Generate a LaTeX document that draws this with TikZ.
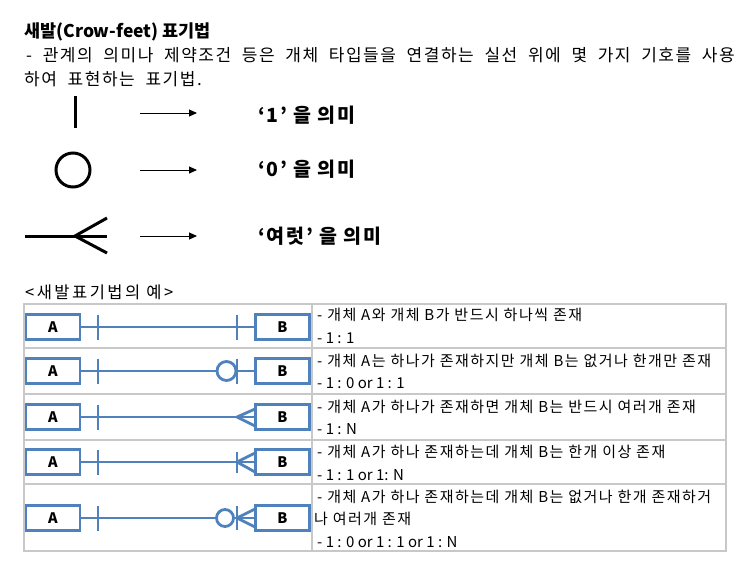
\documentclass[tikz,border=0pt]{standalone}
\usepackage{fontspec}
\setmainfont{Noto Sans CJK KR}
\newfontfamily\introfont[LetterSpace=9,WordSpace=2.0]{Noto Sans CJK KR}
\usetikzlibrary{arrows.meta}
\definecolor{erblue}{HTML}{4F81BD}
\definecolor{gridgray}{HTML}{C8C8C8}
\tikzset{
  txt/.style={anchor=west, inner sep=0pt, text height=0.8em, text depth=0.12em},
  ent/.style={draw=erblue, line width=2.8pt, minimum width=54pt, minimum height=25pt, inner sep=0pt, font=\bfseries\fontsize{14.5}{16}\selectfont},
  rel/.style={draw=erblue, line width=2.8pt},
  sym/.style={draw=black, line width=3pt},
  arr/.style={draw=black, line width=1pt, -{Triangle[length=8pt,width=7pt]}},
  grid/.style={draw=gridgray, line width=1.5pt},
  desc/.style={txt, font=\fontsize{15}{17}\selectfont\addfontfeatures{LetterSpace=10}},
  descn/.style={txt, font=\fontsize{15}{17}\selectfont},
  intro/.style={txt, font=\introfont\fontsize{17}{19}\selectfont},
  mean/.style={txt, font=\bfseries\fontsize{19.5}{22}\selectfont\addfontfeatures{LetterSpace=9}}
}
\begin{document}
\begin{tikzpicture}[x=1pt, y=-1pt]
\useasboundingbox[fill=white] (0,0) rectangle (741,568);
% heading
\node[txt, font=\bfseries\fontsize{17.5}{19}\selectfont] (title) at (24,34) {새발(Crow-feet) 표기법};
\node[intro] (intro1) at (26,58) {- 관계의 의미나 제약조건 등은 개체 타입들을 연결하는 실선 위에 몇 가지 기호를 사용};
\node[intro] (intro2) at (24,82) {하여 표현하는 표기법.};
% legend
\coordinate (s1t) at (75,96); \coordinate (s1b) at (75,128);
\draw[sym] (s1t) -- (s1b);
\coordinate (r1a) at (140,113); \coordinate (r1b) at (197,113);
\draw[arr] (r1a) -- (r1b);
\node[mean] (m1) at (258,119.5) {‘1’ 을 의미};
\node[sym, circle, minimum size=34pt, inner sep=0pt] (s2) at (73,170) {};
\coordinate (r2a) at (140,170); \coordinate (r2b) at (197,170);
\draw[arr] (r2a) -- (r2b);
\node[mean] (m2) at (258,173.5) {‘0’ 을 의미};
\coordinate (s3a) at (25,236); \coordinate (s3f) at (75,236); \coordinate (s3m) at (107,236);
\coordinate (s3u) at (107,218); \coordinate (s3d) at (107,253);
\draw[sym] (s3a) -- (s3m); \draw[sym] (s3u) -- (s3f) -- (s3d);
\coordinate (r3a) at (140,236); \coordinate (r3b) at (197,236);
\draw[arr] (r3a) -- (r3b);
\node[mean] (m3) at (258,240) {‘여럿’ 을 의미};
% example caption
\node[txt, font=\fontsize{16.5}{18}\selectfont\addfontfeatures{LetterSpace=15}] (cap) at (25,295) {<새발표기법의 예>};
% table grid
\coordinate (g1) at (24,304); \coordinate (g2) at (726,551);
\draw[grid] (g1) rectangle (g2);
\coordinate (v1) at (312,304); \coordinate (v2) at (312,551);
\draw[grid] (v1) -- (v2);
\foreach \yy/\w in {348/1.5, 394/2.8, 440/1.5, 484/1.5} {
  \draw[grid, line width=\w pt] (24,\yy) -- (726,\yy);
}
% rows
\foreach \i/\yy in {1/327, 2/371, 3/417, 4/462, 5/518} {
  \node[ent] (a\i) at (53,\yy) {A};
  \node[ent] (b\i) at (282.5,\yy) {B};
  \draw[rel] (a\i) -- (b\i);
  \draw[rel] (98,\yy-12.5) -- (98,\yy+12.5);
}
% row 1: bar at B
\draw[rel] (237,314.5) -- (237,339.5);
% row 2: circle + bar
\node[rel, circle, fill=white, minimum size=19pt, inner sep=0pt] (o2) at (226.5,371) {};
\draw[rel] (237,358.5) -- (237,383.5);
% row 3: crowfoot
\coordinate (f3) at (237,417);
\draw[rel] (255,409) -- (f3) -- (255,426);
% row 4: bar + crowfoot
\draw[rel] (237,452) -- (237,473);
\coordinate (f4) at (237,462);
\draw[rel] (255,453) -- (f4) -- (255,472);
% row 5: circle + bar + crowfoot
\node[rel, circle, fill=white, minimum size=17pt, inner sep=0pt] (o5) at (225,518) {};
\draw[rel] (237,506) -- (237,530);
\coordinate (f5) at (237,518);
\draw[rel] (255,509) -- (f5) -- (255,527);
% descriptions
\node[desc] (d1a) at (317,317.5) {- 개체 A와 개체 B가 반드시 하나씩 존재};
\node[descn] (d1b) at (317,340) {- 1 : 1};
\node[desc] (d2a) at (317,363) {- 개체 A는 하나가 존재하지만 개체 B는 없거나 한개만 존재};
\node[descn] (d2b) at (317,385.5) {- 1 : 0 or 1 : 1};
\node[desc] (d3a) at (317,409.5) {- 개체 A가 하나가 존재하면 개체 B는 반드시 여러개 존재};
\node[descn] (d3b) at (317,431) {- 1 : N};
\node[desc] (d4a) at (317,454.5) {- 개체 A가 하나 존재하는데 개체 B는 한개 이상 존재};
\node[descn] (d4b) at (317,477) {- 1 : 1 or 1: N};
\node[desc] (d5a) at (317,499.5) {- 개체 A가 하나 존재하는데 개체 B는 없거나 한개 존재하거};
\node[desc] (d5b) at (314,521.5) {나 여러개 존재};
\node[descn] (d5c) at (317,544) {- 1 : 0 or 1 : 1 or 1 : N};
\end{tikzpicture}
\end{document}
